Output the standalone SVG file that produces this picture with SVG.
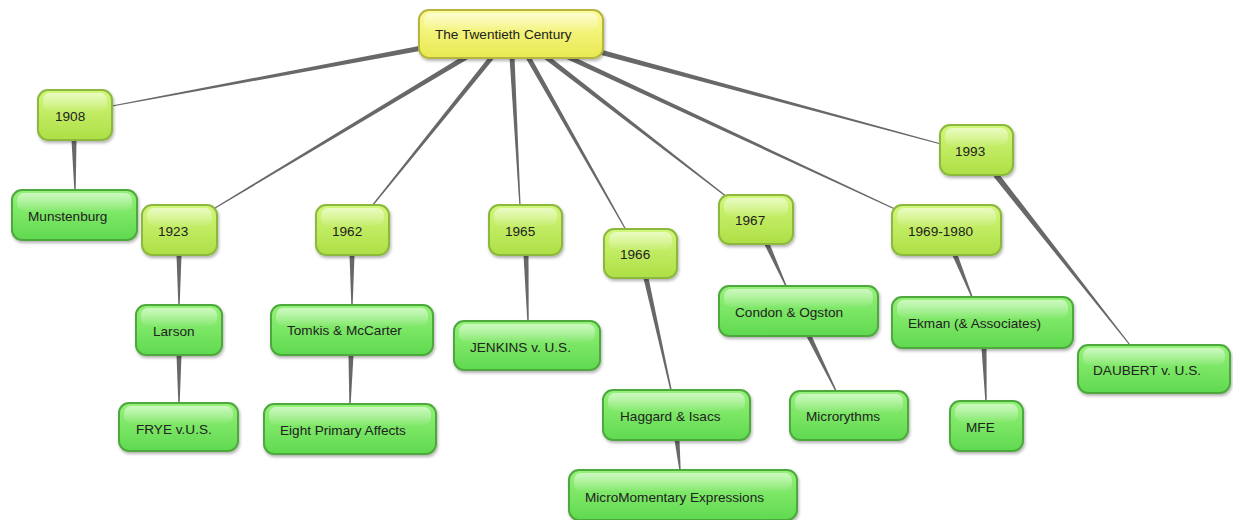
<svg xmlns="http://www.w3.org/2000/svg" width="1233" height="520" viewBox="0 0 1233 520">
<defs>
<linearGradient id="gRoot" x1="0" y1="0" x2="0" y2="1"><stop offset="0" stop-color="#fbfb9a"/><stop offset="1" stop-color="#e9e952"/></linearGradient>
<linearGradient id="gYear" x1="0" y1="0" x2="0" y2="1"><stop offset="0" stop-color="#d2f77c"/><stop offset="1" stop-color="#addf45"/></linearGradient>
<linearGradient id="gLeaf" x1="0" y1="0" x2="0" y2="1"><stop offset="0" stop-color="#96f27a"/><stop offset="1" stop-color="#5fd94f"/></linearGradient>
<linearGradient id="gGloss" x1="0" y1="0" x2="0" y2="1"><stop offset="0" stop-color="#ffffff" stop-opacity="0.55"/><stop offset="1" stop-color="#ffffff" stop-opacity="0.05"/></linearGradient>
<filter id="sh" x="-10%" y="-10%" width="130%" height="140%"><feDropShadow dx="1" dy="2" stdDeviation="1.5" flood-color="#000" flood-opacity="0.3"/></filter>
</defs>
<style>
.root rect.b{fill:url(#gRoot);stroke:#b5b541;stroke-width:2;filter:url(#sh)}
.year rect.b{fill:url(#gYear);stroke:#8bb83c;stroke-width:2;filter:url(#sh)}
.leaf rect.b{fill:url(#gLeaf);stroke:#4ea83e;stroke-width:2;filter:url(#sh)}
rect.g{fill:url(#gGloss)}
text{font-family:"Liberation Sans",Arial,sans-serif;font-size:13.6px;fill:#222}
#connectors polygon{fill:#686868}
</style>
<rect width="1233" height="520" fill="#ffffff"/>
<g id="connectors">
<polygon points="421.54,45.54 111.89,105.41 112.11,106.59 422.46,50.46"/>
<polygon points="466.71,53.86 214.69,207.49 215.31,208.51 469.29,58.14"/>
<polygon points="490.05,55.43 371.53,205.62 372.47,206.38 493.95,58.57"/>
<polygon points="509.5,57.13 519.4,206.03 520.6,205.97 514.5,56.87"/>
<polygon points="525.82,58.23 625.48,230.3 626.52,229.7 530.18,55.77"/>
<polygon points="544.47,58.98 726.63,197.47 727.37,196.53 547.53,55.02"/>
<polygon points="564.95,58.27 896.75,210.54 897.25,209.46 567.05,53.73"/>
<polygon points="599.35,54.41 940.84,144.58 941.16,143.42 600.65,49.59"/>
<polygon points="71.5,140 74.3,190 75.7,190 76.5,140"/>
<polygon points="176.5,255 178.3,305 179.7,305 181.5,255"/>
<polygon points="176.5,355 178.3,403 179.7,403 181.5,355"/>
<polygon points="349.5,255 351.3,305 352.7,305 354.5,255"/>
<polygon points="348.5,355 349.3,404 350.7,404 353.5,355"/>
<polygon points="523.5,255 527.3,321 528.7,321 528.5,255"/>
<polygon points="643.56,278.54 670.27,390.16 671.73,389.84 648.44,277.46"/>
<polygon points="674.5,440 679.3,470 680.7,470 679.5,440"/>
<polygon points="764.72,245.03 785.32,286.31 786.68,285.69 769.28,242.97"/>
<polygon points="806.76,337.1 835.33,391.33 836.67,390.67 811.24,334.9"/>
<polygon points="952.68,255.94 971.3,297.28 972.7,296.72 957.32,254.06"/>
<polygon points="981.5,348 985.3,401 986.7,401 986.5,348"/>
<polygon points="993.64,176.86 1129.53,345.37 1130.47,344.63 998.36,173.14"/>
</g>
<g id="n-root" class="root"><rect class="b" x="419" y="10" width="184" height="48" rx="10"/><rect class="g" x="424" y="13" width="174" height="18" rx="7"/><text x="435" y="39">The Twentieth Century</text></g>
<g id="n-1908" class="year"><rect class="b" x="38" y="90" width="74" height="50" rx="10"/><rect class="g" x="43" y="93" width="64" height="18" rx="7"/><text x="55" y="121">1908</text></g>
<g id="n-munstenburg" class="leaf"><rect class="b" x="12" y="190" width="125" height="50" rx="10"/><rect class="g" x="17" y="193" width="115" height="18" rx="7"/><text x="28" y="221">Munstenburg</text></g>
<g id="n-1923" class="year"><rect class="b" x="142" y="205" width="75" height="50" rx="10"/><rect class="g" x="147" y="208" width="65" height="18" rx="7"/><text x="158" y="236">1923</text></g>
<g id="n-larson" class="leaf"><rect class="b" x="136" y="305" width="86" height="50" rx="10"/><rect class="g" x="141" y="308" width="76" height="18" rx="7"/><text x="153" y="336">Larson</text></g>
<g id="n-frye" class="leaf"><rect class="b" x="119" y="403" width="119" height="48" rx="10"/><rect class="g" x="124" y="406" width="109" height="17" rx="7"/><text x="136" y="434">FRYE v.U.S.</text></g>
<g id="n-1962" class="year"><rect class="b" x="316" y="205" width="73" height="50" rx="10"/><rect class="g" x="321" y="208" width="63" height="18" rx="7"/><text x="332" y="236">1962</text></g>
<g id="n-tomkis" class="leaf"><rect class="b" x="271" y="305" width="162" height="50" rx="10"/><rect class="g" x="276" y="308" width="152" height="18" rx="7"/><text x="287" y="335">Tomkis &amp; McCarter</text></g>
<g id="n-eight" class="leaf"><rect class="b" x="264" y="404" width="172" height="50" rx="10"/><rect class="g" x="269" y="407" width="162" height="18" rx="7"/><text x="280" y="435">Eight Primary Affects</text></g>
<g id="n-1965" class="year"><rect class="b" x="489" y="205" width="73" height="50" rx="10"/><rect class="g" x="494" y="208" width="63" height="18" rx="7"/><text x="505" y="236">1965</text></g>
<g id="n-jenkins" class="leaf"><rect class="b" x="454" y="321" width="146" height="49" rx="10"/><rect class="g" x="459" y="324" width="136" height="18" rx="7"/><text x="470" y="352">JENKINS v. U.S.</text></g>
<g id="n-1966" class="year"><rect class="b" x="604" y="229" width="73" height="49" rx="10"/><rect class="g" x="609" y="232" width="63" height="18" rx="7"/><text x="620" y="259">1966</text></g>
<g id="n-haggard" class="leaf"><rect class="b" x="603" y="390" width="147" height="50" rx="10"/><rect class="g" x="608" y="393" width="137" height="18" rx="7"/><text x="620" y="421">Haggard &amp; Isacs</text></g>
<g id="n-micromomentary" class="leaf"><rect class="b" x="569" y="470" width="228" height="50" rx="10"/><rect class="g" x="574" y="473" width="218" height="18" rx="7"/><text x="585" y="502">MicroMomentary Expressions</text></g>
<g id="n-1967" class="year"><rect class="b" x="719" y="195" width="74" height="49" rx="10"/><rect class="g" x="724" y="198" width="64" height="18" rx="7"/><text x="735" y="225">1967</text></g>
<g id="n-condon" class="leaf"><rect class="b" x="719" y="286" width="159" height="50" rx="10"/><rect class="g" x="724" y="289" width="149" height="18" rx="7"/><text x="735" y="317">Condon &amp; Ogston</text></g>
<g id="n-microrythms" class="leaf"><rect class="b" x="790" y="391" width="118" height="49" rx="10"/><rect class="g" x="795" y="394" width="108" height="18" rx="7"/><text x="806" y="421">Microrythms</text></g>
<g id="n-1969" class="year"><rect class="b" x="892" y="205" width="109" height="50" rx="10"/><rect class="g" x="897" y="208" width="99" height="18" rx="7"/><text x="908" y="236">1969-1980</text></g>
<g id="n-ekman" class="leaf"><rect class="b" x="892" y="297" width="181" height="51" rx="10"/><rect class="g" x="897" y="300" width="171" height="18" rx="7"/><text x="908" y="328">Ekman (&amp; Associates)</text></g>
<g id="n-mfe" class="leaf"><rect class="b" x="950" y="401" width="73" height="50" rx="10"/><rect class="g" x="955" y="404" width="63" height="18" rx="7"/><text x="966" y="432">MFE</text></g>
<g id="n-1993" class="year"><rect class="b" x="940" y="125" width="73" height="50" rx="10"/><rect class="g" x="945" y="128" width="63" height="18" rx="7"/><text x="955" y="156">1993</text></g>
<g id="n-daubert" class="leaf"><rect class="b" x="1078" y="345" width="152" height="48" rx="10"/><rect class="g" x="1083" y="348" width="142" height="17" rx="7"/><text x="1093" y="375">DAUBERT v. U.S.</text></g>
</svg>
